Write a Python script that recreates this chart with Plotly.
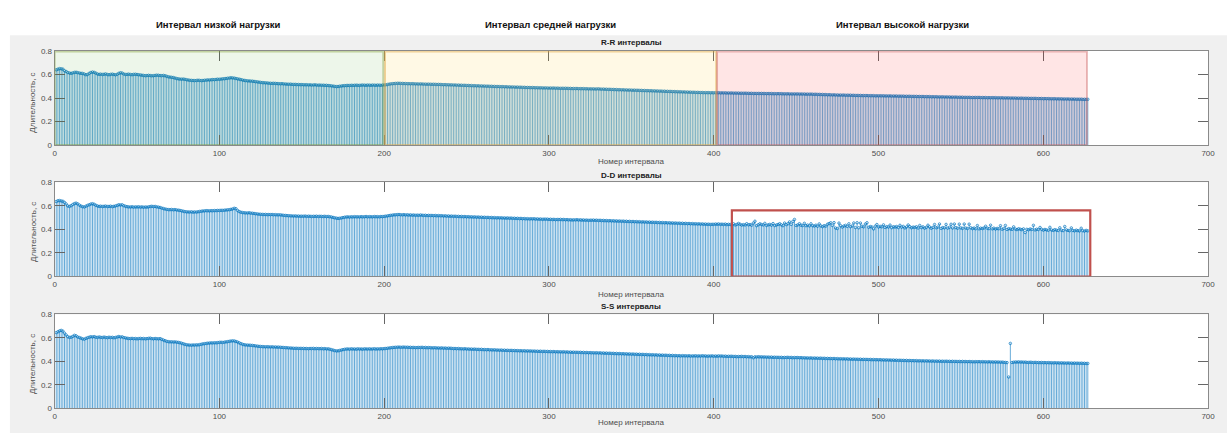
import plotly.graph_objects as go

# ---------------- data (milliseconds) ----------------
RR_MS = [
640, 645, 650, 648, 646, 632, 625, 617, 612, 610,
613, 618, 619, 616, 612, 610, 609, 604, 598, 600,
610, 617, 621, 618, 612, 604, 601, 603, 600, 602,
605, 600, 598, 601, 603, 600, 597, 602, 610, 615,
612, 604, 600, 601, 603, 600, 598, 601, 602, 600,
598, 596, 594, 592, 590, 591, 593, 591, 589, 590,
592, 594, 593, 591, 590, 592, 589, 585, 580, 578,
576, 574, 570, 566, 563, 561, 560, 561, 559, 556,
553, 551, 550, 549, 548, 549, 551, 550, 548, 549,
551, 552, 554, 553, 555, 557, 556, 558, 560, 559,
561, 563, 564, 566, 568, 570, 572, 571, 569, 566,
563, 560, 557, 553, 550, 548, 546, 545, 544, 543,
541, 539, 537, 535, 533, 531, 530, 529, 528, 526,
525, 524, 525, 524, 523, 522, 521, 522, 520, 519,
518, 517, 518, 516, 515, 516, 514, 515, 513, 514,
513, 512, 513, 511, 512, 510, 511, 512, 510, 509,
510, 508, 509, 507, 508, 506, 505, 503, 501, 499,
497, 498, 500, 502, 504, 505, 506, 507, 506, 508,
507, 508, 509, 508, 507, 509, 510, 509, 508, 510,
509, 508, 510, 509, 508, 510, 509, 508, 510, 511,
512, 515, 518, 520, 522, 523, 524, 525, 525, 524,
524, 523, 523, 522, 522, 521, 522, 521, 520, 520,
519, 520, 519, 518, 518, 517, 518, 517, 516, 517,
516, 515, 516, 515, 514, 513, 514, 512, 513, 511,
512, 510, 511, 509, 510, 508, 509, 507, 508, 506,
507, 505, 506, 504, 505, 503, 504, 502, 503, 501,
502, 500, 501, 499, 500, 498, 499, 497, 498, 497,
496, 497, 495, 496, 494, 495, 493, 494, 493, 492,
493, 491, 492, 490, 491, 489, 490, 489, 488, 489,
488, 487, 488, 486, 487, 486, 485, 486, 485, 484,
485, 484, 485, 483, 484, 483, 482, 483, 482, 483,
482, 481, 482, 480, 481, 480, 481, 479, 480, 479,
480, 478, 479, 477, 478, 477, 478, 476, 477, 478,
476, 475, 476, 474, 475, 473, 474, 472, 473, 471,
472, 470, 471, 469, 470, 468, 469, 467, 468, 467,
466, 467, 465, 466, 464, 465, 463, 464, 462, 463,
461, 462, 460, 461, 459, 460, 458, 459, 457, 458,
456, 457, 455, 456, 454, 455, 453, 454, 452, 453,
451, 452, 450, 451, 449, 450, 448, 449, 447, 448,
447, 446, 447, 445, 446, 445, 446, 444, 445, 444,
445, 444, 445, 443, 444, 443, 444, 442, 443, 442,
443, 441, 442, 441, 442, 440, 441, 440, 441, 440,
440, 439, 440, 438, 439, 438, 439, 438, 439, 438,
438, 437, 438, 437, 438, 436, 437, 436, 437, 436,
437, 435, 436, 435, 436, 434, 435, 434, 435, 434,
435, 433, 434, 433, 434, 432, 433, 432, 433, 432,
431, 432, 430, 431, 429, 430, 428, 429, 427, 428,
427, 426, 427, 425, 426, 424, 425, 424, 425, 423,
424, 423, 424, 422, 423, 421, 422, 421, 422, 420,
421, 420, 421, 419, 420, 419, 420, 418, 419, 418,
419, 418, 419, 417, 418, 417, 418, 416, 417, 416,
417, 415, 416, 415, 416, 414, 415, 414, 415, 413,
414, 413, 414, 412, 413, 412, 413, 411, 412, 411,
412, 410, 411, 410, 411, 409, 410, 409, 410, 408,
409, 408, 409, 407, 408, 407, 408, 406, 407, 406,
407, 405, 406, 405, 406, 404, 405, 404, 405, 404,
405, 403, 404, 403, 404, 402, 403, 402, 403, 402,
403, 401, 402, 401, 402, 400, 401, 400, 401, 399,
400, 399, 400, 398, 399, 398, 399, 397, 398, 397,
398, 396, 397, 396, 397, 395, 396, 395, 396, 394,
395, 394, 395, 393, 394, 393, 394, 392, 393, 392,
393, 391, 392, 391, 392, 390, 391, 390, 391, 389,
390, 389, 390, 388, 389, 388, 389,
]

DD_MS = [
636, 642, 644, 640, 638, 628, 615, 598, 594, 600,
610, 618, 622, 616, 605, 597, 592, 589, 596, 603,
608, 614, 617, 612, 604, 598, 594, 596, 593, 595,
597, 593, 594, 596, 592, 595, 598, 603, 608, 606,
608, 600, 595, 592, 590, 589, 591, 588, 590, 589,
591, 588, 590, 587, 589, 588, 590, 593, 595, 592,
594, 590, 588, 585, 580, 576, 572, 569, 567, 566,
568, 565, 567, 564, 562, 560, 557, 553, 550, 548,
547, 546, 548, 545, 547, 546, 548, 551, 553, 555,
556, 558, 557, 556, 558, 557, 559, 558, 560, 559,
561, 560, 562, 563, 565, 566, 569, 572, 578, 575,
560, 550, 545, 542, 540, 539, 538, 540, 537, 536,
534, 532, 530, 528, 527, 526, 525, 526, 524, 525,
524, 525, 523, 524, 522, 523, 522, 520, 518, 517,
516, 515, 514, 513, 512, 513, 511, 512, 510, 511,
510, 512, 509, 511, 510, 508, 510, 509, 511, 508,
510, 509, 508, 510, 507, 509, 506, 504, 500, 497,
494, 492, 493, 496, 499, 502, 504, 505, 503, 506,
504, 507, 505, 506, 504, 507, 505, 506, 508, 505,
507, 506, 505, 508, 506, 507, 505, 508, 507, 509,
511, 513, 516, 518, 520, 522, 523, 524, 525, 523,
522, 524, 521, 523, 520, 522, 519, 521, 518, 520,
518, 521, 519, 517, 519, 516, 518, 516, 517, 515,
517, 514, 516, 514, 515, 512, 514, 511, 513, 510,
512, 509, 511, 508, 510, 507, 509, 506, 508, 505,
507, 504, 506, 503, 505, 502, 504, 501, 503, 500,
502, 499, 501, 498, 500, 497, 499, 496, 498, 496,
497, 495, 496, 494, 496, 493, 495, 492, 494, 491,
493, 490, 492, 489, 491, 488, 490, 487, 489, 488,
489, 486, 488, 485, 487, 484, 486, 485, 486, 483,
485, 482, 484, 481, 483, 482, 484, 481, 483, 480,
482, 479, 481, 478, 480, 479, 481, 478, 480, 477,
479, 476, 478, 475, 477, 476, 478, 475, 477, 474,
476, 473, 475, 472, 474, 471, 473, 470, 472, 469,
471, 468, 470, 467, 469, 466, 468, 465, 467, 464,
466, 463, 465, 462, 464, 461, 463, 460, 462, 459,
461, 458, 460, 457, 459, 456, 458, 455, 457, 454,
456, 453, 455, 452, 454, 451, 453, 450, 452, 449,
451, 448, 450, 447, 449, 446, 448, 445, 447, 444,
446, 443, 445, 442, 444, 441, 443, 440, 442, 441,
444, 442, 445, 441, 443, 440, 444, 439, 442, 440,
438, 446, 436, 440, 449, 442, 435, 439, 436, 447,
437, 440, 434, 452, 468, 430, 438, 446, 440, 436,
450, 432, 437, 441, 434, 448, 431, 436, 440, 447,
437, 430, 452, 439, 446, 462, 441, 466, 483, 432,
436, 447, 434, 431, 450, 430, 435, 428, 446, 430,
427, 434, 425, 445, 428, 422, 430, 426, 442, 448,
455, 432, 456, 410, 406, 452, 430, 418, 427, 433,
424, 446, 421, 428, 453, 414, 455, 412, 452, 425,
420, 444, 455, 416, 423, 419, 402, 426, 440, 418,
424, 420, 437, 415, 422, 418, 435, 413, 421, 418,
423, 414, 433, 417, 424, 411, 419, 436, 422, 412,
418, 415, 421, 410, 432, 414, 420, 409, 416, 434,
419, 408, 415, 440, 412, 418, 444, 407, 414, 411,
441, 409, 416, 442, 410, 444, 413, 408, 443, 411,
407, 444, 410, 406, 443, 412, 405, 410, 404, 431,
403, 409, 406, 410, 425, 408, 405, 434, 403, 409,
401, 407, 404, 430, 400, 406, 432, 398, 405, 402,
399, 420, 401, 397, 404, 400, 396, 403, 372, 399,
395, 402, 398, 433, 394, 400, 397, 415, 399, 392,
398, 394, 391, 416, 393, 390, 396, 392, 389, 412,
391, 388, 423, 394, 390, 387, 411, 389, 386, 392,
388, 385, 408, 387, 384, 390, 386,
]

SS_MS = [
645, 652, 660, 664, 658, 640, 625, 610, 604, 606,
612, 622, 618, 608, 603, 598, 592, 589, 596, 602,
606, 610, 608, 611, 606, 604, 608, 605, 603, 607,
604, 602, 606, 603, 605, 601, 604, 608, 612, 607,
609, 603, 600, 597, 595, 594, 596, 593, 595, 592,
594, 596, 593, 595, 592, 594, 596, 598, 594, 592,
595, 593, 592, 594, 588, 582, 576, 571, 568, 566,
567, 565, 566, 564, 562, 559, 555, 550, 546, 542,
540, 539, 538, 540, 539, 541, 540, 543, 546, 549,
551, 553, 555, 556, 558, 557, 559, 558, 560, 562,
563, 561, 564, 566, 568, 571, 573, 575, 574, 570,
565, 558, 552, 546, 542, 540, 539, 538, 537, 536,
534, 532, 530, 528, 527, 526, 525, 524, 525, 524,
523, 524, 522, 523, 521, 522, 520, 519, 518, 517,
516, 515, 514, 513, 512, 511, 512, 510, 511, 510,
511, 509, 510, 508, 510, 509, 511, 508, 510, 509,
508, 510, 507, 509, 506, 507, 504, 500, 496, 492,
489, 490, 493, 497, 500, 503, 505, 506, 504, 507,
505, 506, 504, 507, 505, 506, 504, 507, 506, 505,
507, 505, 506, 508, 505, 507, 506, 508, 507, 509,
510, 512, 514, 516, 518, 519, 520, 521, 522, 520,
521, 522, 520, 521, 519, 520, 518, 519, 517, 518,
519, 518, 520, 517, 519, 516, 518, 517, 515, 516,
516, 514, 515, 513, 515, 512, 514, 511, 513, 512,
511, 509, 510, 508, 510, 507, 508, 506, 508, 505,
506, 504, 505, 503, 505, 502, 503, 501, 503, 500,
501, 499, 501, 498, 499, 497, 499, 496, 497, 495,
497, 494, 496, 493, 495, 492, 494, 492, 493, 491,
492, 490, 491, 489, 491, 488, 490, 488, 489, 487,
488, 486, 487, 485, 487, 484, 486, 484, 485, 483,
484, 482, 484, 481, 483, 481, 482, 480, 482, 479,
481, 478, 480, 477, 479, 477, 478, 476, 478, 475,
477, 474, 476, 473, 475, 473, 474, 472, 474, 471,
473, 470, 472, 469, 471, 468, 470, 467, 469, 466,
468, 465, 467, 464, 466, 463, 465, 462, 464, 461,
463, 460, 462, 459, 461, 458, 460, 457, 459, 456,
458, 455, 457, 454, 456, 453, 455, 452, 454, 451,
453, 450, 452, 449, 451, 448, 450, 447, 449, 446,
449, 447, 448, 446, 448, 445, 447, 446, 448, 445,
447, 445, 448, 446, 447, 444, 446, 445, 447, 444,
446, 444, 447, 445, 446, 443, 445, 442, 444, 443,
444, 441, 443, 440, 442, 441, 443, 440, 442, 439,
441, 438, 440, 431, 439, 437, 440, 438, 439, 437,
438, 436, 437, 435, 437, 434, 436, 434, 435, 433,
435, 432, 434, 433, 435, 432, 434, 431, 433, 432,
433, 431, 432, 430, 431, 429, 430, 428, 430, 427,
429, 427, 428, 426, 428, 425, 427, 424, 426, 424,
425, 423, 425, 422, 424, 421, 423, 421, 422, 420,
422, 419, 421, 418, 420, 418, 419, 417, 419, 416,
418, 416, 417, 415, 417, 414, 416, 414, 415, 413,
415, 412, 414, 411, 413, 411, 412, 410, 412, 409,
411, 408, 410, 408, 409, 407, 409, 406, 408, 406,
407, 405, 407, 404, 406, 404, 405, 403, 405, 403,
404, 402, 404, 401, 403, 401, 403, 400, 402, 400,
402, 400, 401, 399, 401, 399, 400, 398, 400, 398,
400, 398, 399, 397, 399, 397, 398, 396, 398, 397,
398, 396, 398, 396, 397, 395, 397, 395, 396, 394,
396, 394, 395, 393, 394, 392, 391, 390, 267, 553,
391, 393, 395, 394, 396, 394, 395, 393, 394, 392,
391, 393, 392, 390, 392, 390, 391, 389, 391, 389,
390, 388, 390, 388, 389, 387, 389, 387, 388, 386,
388, 386, 387, 385, 387, 385, 386, 384, 386, 384,
385, 383, 385, 383, 384, 382, 383,
]

HEADERS = ["Интервал низкой нагрузки", "Интервал средней нагрузки", "Интервал высокой нагрузки"]
TITLES = ["R-R интервалы", "D-D интервалы", "S-S интервалы"]
Y_LABEL = "Длительность, с"
X_LABEL = "Номер интервала"
X_TICKS = [0, 100, 200, 300, 400, 500, 600, 700]
Y_TICKS = [0, 0.2, 0.4, 0.6, 0.8]
# load zones (interval numbers) for the top panel, and the highlighted D-D zone
ZONES = [(0, 199.5), (200.5, 401.5), (402, 626.5)]
DD_BOX = (411, 628.5, -0.003, 0.56)

# ---------------- layout geometry (pixels) ----------------
W, H = 1227, 433
def fx(p):
    return p / W
def fy(p):
    return 1 - p / H

X_L, X_R = 53, 1215
PANELS = [(48, 144), (182, 278), (317, 413)]
TITLE_Y = [39, 175, 309]
XLAB_Y = [161, 297, 427]
YLAB_Y = [101, 233, 368]

FONT = "Liberation Sans, Arial, Helvetica, sans-serif"
STEM = "#0072BD"

fig = go.Figure()
series = [RR_MS, DD_MS, SS_MS]
for k, vals in enumerate(series):
    idx = list(range(1, len(vals) + 1))
    vs = [v / 1000 for v in vals]
    xs, ys = [], []
    for i, v in zip(idx, vs):
        xs += [i, i, None]
        ys += [0, v, None]
    xa = "x" if k == 0 else f"x{k+1}"
    ya = "y" if k == 0 else f"y{k+1}"
    fig.add_trace(go.Scatter(x=xs, y=ys, mode="lines",
                             line=dict(color=STEM, width=0.6),
                             xaxis=xa, yaxis=ya, hoverinfo="skip", showlegend=False))
    fig.add_trace(go.Scatter(x=idx, y=vs, mode="markers",
                             marker=dict(symbol="circle-open", size=2.5, color=STEM,
                                         line=dict(width=0.7, color=STEM)),
                             xaxis=xa, yaxis=ya, showlegend=False))

axis_common = dict(showline=True, linecolor="#8a8a8a", linewidth=1, mirror="ticks",
                   ticks="inside", ticklen=10, tickwidth=1, tickcolor="#666666",
                   showgrid=False, zeroline=False,
                   tickfont=dict(family=FONT, size=8, color="#4d4d4d"))

layout = dict(width=W, height=H, autosize=False,
              margin=dict(l=0, r=0, t=0, b=0, pad=0),
              paper_bgcolor="#f0f0f0", plot_bgcolor="#ffffff",
              showlegend=False)

for k, (top, bot) in enumerate(PANELS):
    sx = "" if k == 0 else str(k + 1)
    layout["xaxis" + sx] = dict(axis_common, domain=[fx(X_L), fx(X_R)], range=[0, 700],
                                tickvals=X_TICKS, anchor="y" + sx)
    layout["yaxis" + sx] = dict(axis_common, domain=[fy(bot), fy(top)], range=[0, 0.8],
                                tickvals=Y_TICKS, ticktext=[str(t) for t in Y_TICKS],
                                anchor="x" + sx)
fig.update_layout(**layout)

shapes = []
# white surround outside the gray figure area
shapes.append(dict(type="rect", xref="paper", yref="paper", x0=-0.05, x1=1.05, y0=fy(32), y1=1.1,
                   fillcolor="#ffffff", line=dict(width=0), layer="below"))
shapes.append(dict(type="rect", xref="paper", yref="paper", x0=-0.05, x1=fx(8), y0=-0.1, y1=1.1,
                   fillcolor="#ffffff", line=dict(width=0), layer="below"))
zone_fill = ["rgba(60,150,20,0.09)", "rgba(255,200,0,0.10)", "rgba(255,0,0,0.10)"]
zone_line = ["rgba(130,160,60,0.45)", "rgba(225,170,70,0.5)", "rgba(200,90,90,0.4)"]
for (a, b), fc, lc in zip(ZONES, zone_fill, zone_line):
    shapes.append(dict(type="rect", xref="x", yref="y", x0=a, x1=b, y0=0, y1=0.795,
                       fillcolor=fc, line=dict(color=lc, width=2), layer="above"))
shapes.append(dict(type="rect", xref="x2", yref="y2", x0=DD_BOX[0], x1=DD_BOX[1],
                   y0=DD_BOX[2], y1=DD_BOX[3], fillcolor="rgba(0,0,0,0)",
                   line=dict(color="#c0504d", width=2.2), layer="above"))
fig.update_layout(shapes=shapes)

ann = []
for text, xc in zip(HEADERS, [218, 553, 907]):
    ann.append(dict(text=text, x=fx(xc), y=fy(21), xref="paper", yref="paper",
                    showarrow=False, xanchor="center", yanchor="middle",
                    font=dict(family=FONT, size=9.5, color="#111111", weight="bold")))
xc = (X_L + X_R) / 2
for k in range(3):
    ann.append(dict(text=TITLES[k], x=fx(xc), y=fy(TITLE_Y[k]), xref="paper", yref="paper",
                    showarrow=False, xanchor="center", yanchor="middle",
                    font=dict(family=FONT, size=8, color="#222222", weight="bold")))
    ann.append(dict(text=X_LABEL, x=fx(xc), y=fy(XLAB_Y[k]), xref="paper", yref="paper",
                    showarrow=False, xanchor="center", yanchor="middle",
                    font=dict(family=FONT, size=8, color="#4d4d4d")))
    ann.append(dict(text=Y_LABEL, x=fx(31), y=fy(YLAB_Y[k]), xref="paper", yref="paper",
                    showarrow=False, xanchor="center", yanchor="middle", textangle=-90,
                    font=dict(family=FONT, size=8, color="#4d4d4d")))
fig.update_layout(annotations=ann)

fig.write_html("out.html",
               config={"displayModeBar": False},
               post_script="document.body.style.margin='0';"
                           "document.documentElement.style.overflow='hidden';"
                           "document.body.style.overflow='hidden';")
